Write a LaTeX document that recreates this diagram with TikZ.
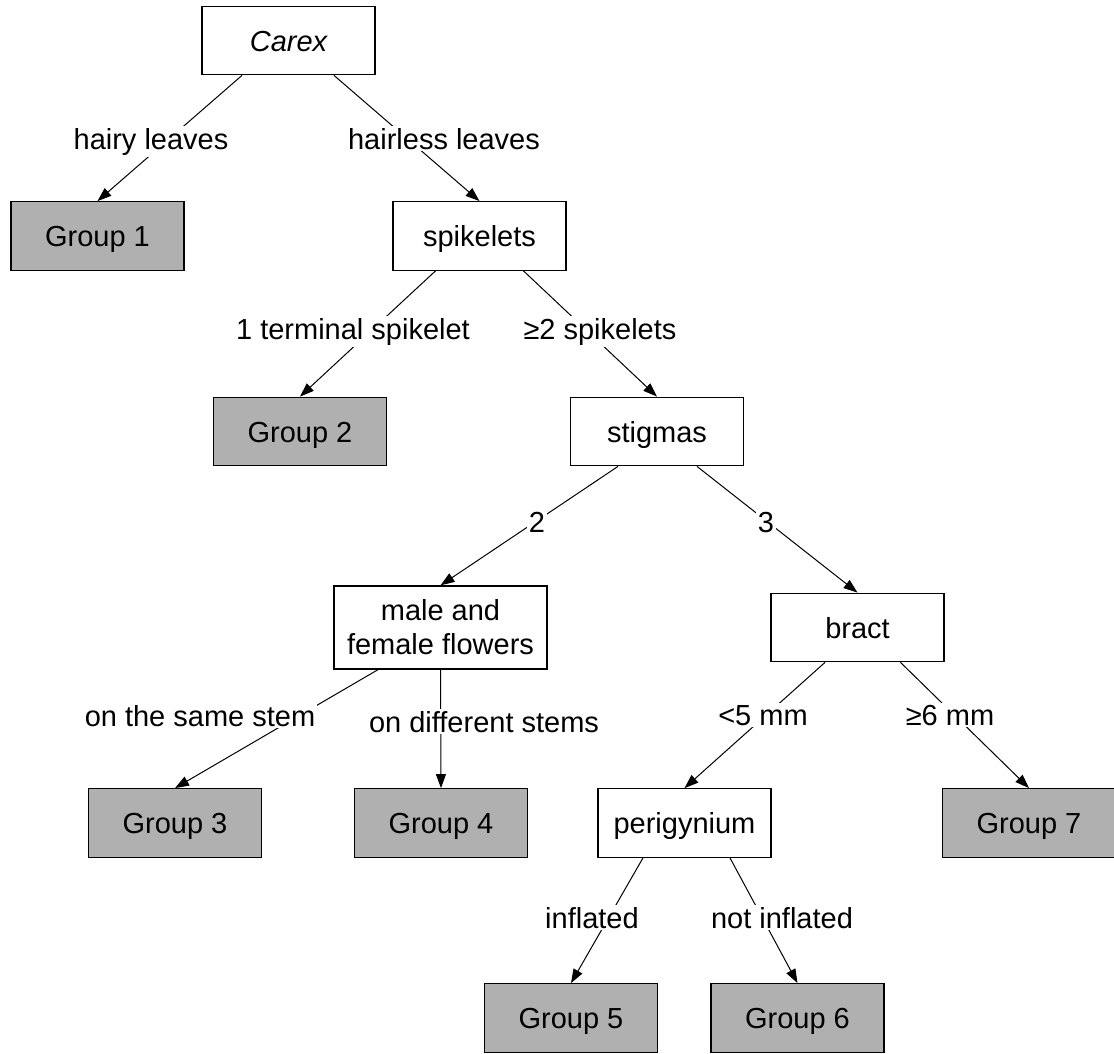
\documentclass[tikz,border=0pt]{standalone}
\usepackage{fontspec}
\setmainfont{Liberation Sans}
\usetikzlibrary{arrows.meta}
\definecolor{leafgray}{RGB}{176,176,176}
\begin{document}
\begin{tikzpicture}[x=1pt,y=-1pt,
  font=\fontsize{29}{34}\selectfont,
  box/.style={draw=black,line width=1.3pt,fill=white,minimum width=173pt,minimum height=68.5pt,inner sep=2pt,text height=21pt,text depth=0pt},
  leaf/.style={box,fill=leafgray},
  lab/.style={fill=white,inner sep=2pt,anchor=base},
  edge/.style={line width=1pt,-{Triangle[length=14pt,width=10pt]}}
]
\useasboundingbox (0,0) rectangle (1114,1053);
% nodes
\node[box]  (carex) at (288.5,40.5) {\itshape Carex};
\node[leaf] (g1)    at (97.5,236)   {Group 1};
\node[box]  (spk)   at (479.5,236)  {spikelets};
\node[leaf] (g2)    at (300,431.5)  {Group 2};
\node[box]  (stg)   at (657,431.5)  {stigmas};
\node[draw=black,line width=1.3pt,fill=white,minimum width=213pt,minimum height=83pt,align=center,inner sep=2pt] (mf) at (440.5,627.5) {male and\\female flowers};
\node[box]  (bract) at (857.5,627.5) {bract};
\node[leaf] (g3)    at (175,823)    {Group 3};
\node[leaf] (g4)    at (441,823)    {Group 4};
\node[box]  (peri)  at (684.5,823)  {perigynium};
\node[leaf] (g7)    at (1029,823)   {Group 7};
\node[leaf] (g5)    at (571,1018)   {Group 5};
\node[leaf] (g6)    at (797.5,1018) {Group 6};
% connectors
\draw[edge] ([xshift=-46.5pt]carex.south) -- (g1.north);
\draw[edge] ([xshift=45.5pt]carex.south) -- (spk.north);
\draw[edge] ([xshift=-44pt]spk.south) -- (g2.north);
\draw[edge] ([xshift=44pt]spk.south) -- (stg.north);
\draw[edge] ([xshift=-39pt]stg.south) -- (mf.north);
\draw[edge] ([xshift=40pt]stg.south) -- (bract.north);
\draw[edge] ([xshift=-62.5pt]mf.south) -- (g3.north);
\draw[edge] (mf.south) -- (g4.north);
\draw[edge] ([xshift=-32.5pt]bract.south) -- (peri.north);
\draw[edge] ([xshift=43pt]bract.south) -- (g7.north);
\draw[edge] ([xshift=-41.5pt]peri.south) -- (g5.north);
\draw[edge] ([xshift=45.5pt]peri.south) -- (g6.north);
% labels
\node[lab] (l1)  at (151,149)  {hairy leaves};
\node[lab] (l2)  at (444,149)  {hairless leaves};
\node[lab] (l3)  at (353,339)  {1 terminal spikelet};
\node[lab] (l4)  at (600,339)  {≥2 spikelets};
\node[lab] (l5)  at (537,532)  {2};
\node[lab] (l6)  at (766,532)  {3};
\node[lab] (l7)  at (200,726)  {on the same stem};
\node[lab] (l8)  at (484,732)  {on different stems};
\node[lab] (l9)  at (763,725)  {<5 mm};
\node[lab] (l10) at (950,725)  {≥6 mm};
\node[lab] (l11) at (592,928)  {inflated};
\node[lab] (l12) at (782,928)  {not inflated};
\end{tikzpicture}
\end{document}
